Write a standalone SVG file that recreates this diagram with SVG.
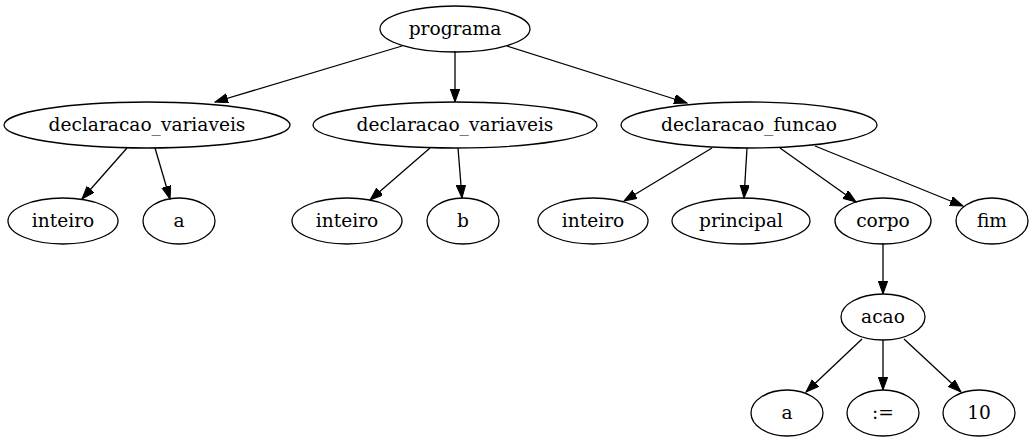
<svg xmlns="http://www.w3.org/2000/svg" width="1033" height="443" viewBox="0 0 1033 443">
<defs>
<marker id="ah" markerWidth="14" markerHeight="10" refX="13" refY="4.7" orient="auto" markerUnits="userSpaceOnUse"><path d="M0,0 L13,4.7 L0,9.4 z" fill="#000" stroke="#000" stroke-width="1"/></marker>
<style>
ellipse{fill:none;stroke:#000;stroke-width:1.3}
text{font-family:"DejaVu Serif","Liberation Serif",serif;font-size:18.6px;text-anchor:middle;fill:#000}
.e line{stroke:#000;stroke-width:1.3;marker-end:url(#ah)}
</style>
</defs>
<rect width="1033" height="443" fill="#fff"/>
<g class="e" id="edges">
<line x1="402" y1="46" x2="215" y2="102"/>
<line x1="455" y1="51" x2="455" y2="102"/>
<line x1="507" y1="46" x2="687" y2="103"/>
<line x1="127" y1="148" x2="82" y2="199"/>
<line x1="155" y1="148" x2="170" y2="199"/>
<line x1="430" y1="148" x2="370" y2="200"/>
<line x1="458" y1="148" x2="462" y2="198"/>
<line x1="712" y1="148" x2="624" y2="201"/>
<line x1="747" y1="148" x2="744" y2="198"/>
<line x1="780" y1="148" x2="856" y2="202"/>
<line x1="815" y1="146" x2="963" y2="206"/>
<line x1="883" y1="243" x2="883" y2="294"/>
<line x1="862" y1="339" x2="806" y2="392"/>
<line x1="883" y1="340" x2="883" y2="390"/>
<line x1="904" y1="339" x2="961" y2="392"/>
</g>
<g id="programa"><ellipse cx="455" cy="29" rx="75" ry="23"/><text x="455" y="35">programa</text></g>
<g id="dv1"><ellipse cx="147" cy="125" rx="143" ry="23"/><text x="147" y="131">declaracao_variaveis</text></g>
<g id="dv2"><ellipse cx="455" cy="125" rx="142" ry="23"/><text x="455" y="131">declaracao_variaveis</text></g>
<g id="df"><ellipse cx="749" cy="125" rx="128" ry="23"/><text x="749" y="131">declaracao_funcao</text></g>
<g id="inteiro1"><ellipse cx="63" cy="221" rx="55" ry="23"/><text x="63" y="227">inteiro</text></g>
<g id="a1"><ellipse cx="179" cy="221" rx="36" ry="23"/><text x="179" y="227">a</text></g>
<g id="inteiro2"><ellipse cx="347" cy="221" rx="55" ry="23"/><text x="347" y="227">inteiro</text></g>
<g id="b"><ellipse cx="463" cy="221" rx="36" ry="23"/><text x="463" y="227">b</text></g>
<g id="inteiro3"><ellipse cx="593" cy="221" rx="55" ry="23"/><text x="593" y="227">inteiro</text></g>
<g id="principal"><ellipse cx="741" cy="221" rx="69" ry="23"/><text x="741" y="227">principal</text></g>
<g id="corpo"><ellipse cx="883" cy="221" rx="48" ry="23"/><text x="883" y="227">corpo</text></g>
<g id="fim"><ellipse cx="992" cy="221" rx="36" ry="23"/><text x="992" y="227">fim</text></g>
<g id="acao"><ellipse cx="883" cy="317" rx="42" ry="23"/><text x="883" y="323">acao</text></g>
<g id="a2"><ellipse cx="787" cy="413" rx="36" ry="23"/><text x="787" y="419">a</text></g>
<g id="assign"><ellipse cx="883" cy="413" rx="36" ry="23"/><text x="883" y="419">:=</text></g>
<g id="ten"><ellipse cx="979" cy="413" rx="36" ry="23"/><text x="979" y="419">10</text></g>
</svg>
